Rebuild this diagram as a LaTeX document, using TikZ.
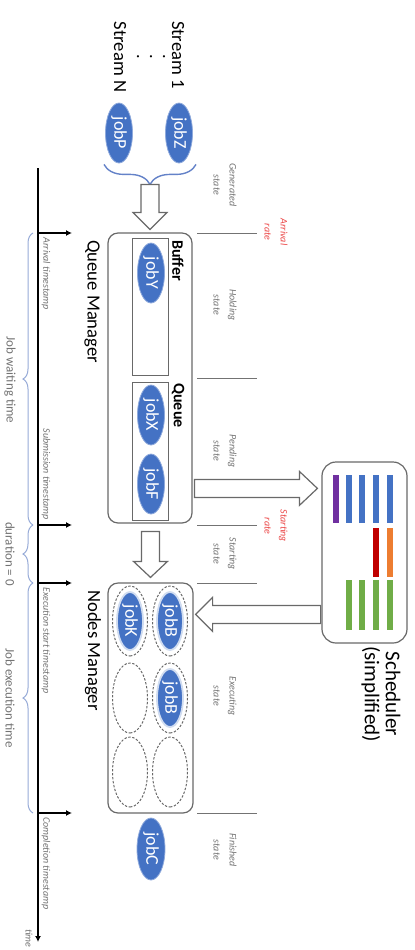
\documentclass[tikz,border=0pt]{standalone}
\usepackage{fontspec}
\setsansfont{Carlito}
\usetikzlibrary{
    shapes.geometric,
    arrows.meta,
    positioning,
    calc,
    decorations.pathreplacing
}
\definecolor{jobblue}{RGB}{68,114,196}
\definecolor{boxgray}{RGB}{105,105,105}
\definecolor{textgray}{RGB}{115,115,115}
\definecolor{ratered}{RGB}{235,70,70}
\definecolor{bracecol}{RGB}{150,170,215}
\definecolor{streambrace}{RGB}{100,130,200}
\definecolor{barblue}{RGB}{68,114,196}
\definecolor{barpurple}{RGB}{112,48,160}
\definecolor{barred}{RGB}{192,0,0}
\definecolor{barorange}{RGB}{237,125,49}
\definecolor{bargreen}{RGB}{112,173,71}
\tikzset{
    % Jobs
    job/.style={
        ellipse,
        fill=jobblue,
        draw=jobblue!60!white,
        line width=0.4pt,
        text=white,
        minimum width=30pt,
        minimum height=13.5pt,
        inner sep=0pt,
        font=\sffamily\fontsize{9}{10}\selectfont
    },
    slot/.style={
        ellipse,
        draw=boxgray,
        dash pattern=on 1.2pt off 0.8pt,
        line width=0.5pt,
        minimum width=35pt,
        minimum height=17.5pt,
        inner sep=0pt
    },
    slotjob/.style={
        job,
        draw=jobblue!25!white,
        line width=0.9pt,
        minimum width=29pt,
        minimum height=13pt
    },
    % Boxes
    manager/.style={
        rectangle,
        draw=boxgray,
        line width=0.6pt,
        rounded corners=5pt,
        inner sep=0pt
    },
    holder/.style={
        rectangle,
        draw=boxgray,
        line width=0.5pt,
        inner sep=0pt,
        minimum height=18pt
    },
    blockarrow/.style={
        draw=boxgray,
        fill=white,
        line width=0.6pt,
        line join=miter
    },
    % Labels
    heading/.style={
        font=\sffamily\fontsize{9.3}{11}\selectfont
    },
    boxlabel/.style={
        font=\sffamily\bfseries\fontsize{8}{9}\selectfont,
        inner sep=0pt
    },
    statelabel/.style={
        font=\sffamily\itshape\fontsize{5}{8}\selectfont,
        text=textgray,
        align=center
    },
    ratelabel/.style={
        statelabel,
        text=ratered
    },
    stamplabel/.style={
        font=\sffamily\itshape\fontsize{5}{6}\selectfont,
        text=textgray,
        inner sep=0pt
    },
    spanlabel/.style={
        font=\sffamily\fontsize{6.5}{7}\selectfont,
        text=textgray
    },
    % Lines
    stateline/.style={
        draw=textgray,
        line width=0.5pt
    },
    timeaxis/.style={
        -{Latex[length=3pt,width=3pt]},
        line width=1pt
    },
    stamptick/.style={
        -{Latex[length=3pt,width=3pt]},
        line width=0.7pt
    },
    timebrace/.style={
        draw=bracecol,
        line width=0.5pt,
        decorate,
        decoration={brace, amplitude=5pt}
    },
    streamsbrace/.style={
        draw=streambrace,
        line width=0.7pt,
        decorate,
        decoration={brace, amplitude=10pt}
    }
}

\begin{document}
\begin{tikzpicture}[x=0.5pt, y=0.5pt]
\begin{scope}[rotate=-90, transform shape]
    \useasboundingbox (0,0) rectangle (950,414);

    % Streams
    \node[heading] (stream1) at (55,178) {Stream 1};
    \node[heading] (streamN) at (57,120) {Stream N};
    \node[heading, align=center, font=\sffamily\fontsize{9}{6.5}\selectfont] (dots) at (57,151) {.\\.\\.};
    \node[job] (jobZ) at (133,179) {jobZ};
    \node[job] (jobP) at (133,119) {jobP};
    \draw[streamsbrace] ($(jobZ.east)+(1,17)$) -- ($(jobP.east)+(1,-15)$);

    % Queue Manager
    \node[manager, minimum width=145pt, minimum height=42pt] (qm) at (378,150) {};
    \node[holder, minimum width=68.5pt] (buffer) at (306.5,150) {};
    \node[holder, minimum width=69pt] (queue) at (451,150) {};
    \node[boxlabel, anchor=west] (bufferlabel) at (240,178) {Buffer};
    \node[boxlabel, anchor=west] (queuelabel) at (383,178) {Queue};
    \node[job] (jobY) at (273,151) {jobY};
    \node[job] (jobX) at (415,151) {jobX};
    \node[job] (jobF) at (484,151) {jobF};
    \node[heading, anchor=west, inner sep=0pt] (qmlabel) at (240,92) {Queue Manager};

    % Nodes Manager
    \node[manager, minimum width=115pt, minimum height=42.5pt] (nm) at (698,150.5) {};
    \foreach \x/\y/\n in {621/170/a1, 698/170/a2, 772/170/a3, 621/130/b1, 698/130/b2, 772/130/b3}
        \node[slot] (slot\n) at (\x,\y) {};
    \node[slotjob] (jobB) at (slota1) {jobB};
    \node[slotjob] (jobBtwo) at (slota2) {jobB};
    \node[slotjob] (jobK) at (slotb1) {jobK};
    \node[heading, anchor=west, inner sep=0pt] (nmlabel) at (590,93) {Nodes Manager};
    \node[job, minimum width=31pt, minimum height=14pt] (jobC) at (849,151) {jobC};

    % Scheduler
    \node[manager, rounded corners=7pt, minimum width=90.5pt, minimum height=42.5pt] (sched) at (552.5,364.5) {};
    \foreach \y in {348.5,361.5,375.5,390} {
        \fill[barblue] (475,\y-3) rectangle (523,\y+3);
        \fill[bargreen] (580,\y-3) rectangle (630,\y+3);
    }
    \fill[barpurple] (475,333) rectangle (523,339);
    \fill[barred] (528,372.5) rectangle (577,378.5);
    \fill[barorange] (528,387) rectangle (577,393);
    \node[heading, align=center, font=\sffamily\fontsize{10.5}{10.5}\selectfont] (schedlabel) at (694,381) {Scheduler\\(simplified)};

    % Block arrows
    \draw[blockarrow] ($(qm.west)+(-3,0)$) -- ++(-17,17) -- ++(0,-8) -- ++(-28,0) -- ++(0,-18) -- ++(28,0) -- ++(0,-8) -- cycle;
    \draw[blockarrow] ($(nm.west)+(-5,0)$) -- ++(-16,17) -- ++(0,-8) -- ++(-30,0) -- ++(0,-18) -- ++(30,0) -- ++(0,-8) -- cycle;
    \draw[blockarrow] ($(sched.south west)+(27,-4)$) -- ++(-17,-18) -- ++(8,0) -- ++(0,-105) -- ++(18,0) -- ++(0,105) -- ++(8,0) -- cycle;
    \draw[blockarrow] ($(nm.north west)+(32,2)$) -- ++(-17,17) -- ++(8,0) -- ++(0,108) -- ++(18,0) -- ++(0,-108) -- ++(8,0) -- cycle;

    % States
    \foreach \x in {233,378,525,583,813}
        \draw[stateline] (\x,197) -- (\x,257);
    \node[statelabel] (genstate) at (185,225) {Generated\\state};
    \node[statelabel] (holdstate) at (305,225) {Holding\\state};
    \node[statelabel] (pendstate) at (451,225) {Pending\\state};
    \node[statelabel] (startstate) at (554,225) {Starting\\state};
    \node[statelabel] (execstate) at (696,225) {Executing\\state};
    \node[statelabel] (finstate) at (850,225) {Finished\\state};
    \node[ratelabel] (arrrate) at (232,276) {Arrival\\rate};
    \node[ratelabel] (startrate) at (526,276) {Starting\\rate};

    % Time axis
    \coordinate (t0) at (168,38);
    \coordinate (t1) at (942,38);
    \draw[timeaxis] (t0) -- (t1);
    \node[stamplabel, anchor=east] (timelabel) at (948,29) {time};
    \foreach \x/\n in {233/arr,525/sub,583/exe,813/com} {
        \coordinate (\n) at (\x,38);
        \draw[stamptick] (\n) -- ++(0,34);
    }
    \node[stamplabel, anchor=west] (arrlabel) at ($(arr)+(4,8)$) {Arrival timestamp};
    \node[stamplabel, anchor=east] (sublabel) at ($(sub)+(-5,8)$) {Submission timestamp};
    \node[stamplabel, anchor=west] (exelabel) at ($(exe)+(4,8)$) {Execution start timestamp};
    \node[stamplabel, anchor=west] (comlabel) at ($(com)+(4,8)$) {Completion timestamp};

    % Durations
    \draw[timebrace] ($(sub)+(0,-5)$) -- ($(arr)+(0,-5)$);
    \draw[timebrace] ($(exe)+(0,-5)$) -- ($(sub)+(0,-5)$);
    \draw[timebrace] ($(com)+(0,-5)$) -- ($(exe)+(0,-5)$);
    \node[spanlabel] (waitlabel) at (380,10) {Job waiting time};
    \node[spanlabel] (zerolabel) at (554,10) {duration = 0};
    \node[spanlabel] (runlabel) at (698,10) {Job execution time};
\end{scope}
\end{tikzpicture}
\end{document}
